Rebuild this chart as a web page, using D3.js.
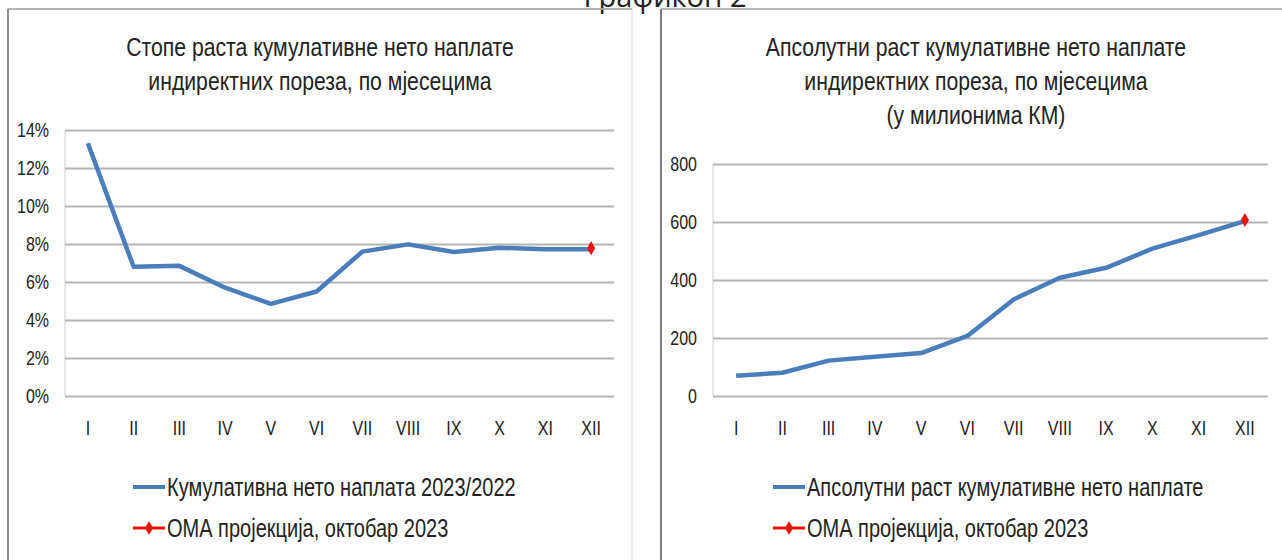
<!DOCTYPE html>
<html>
<head>
<meta charset="utf-8">
<script src="https://cdn.jsdelivr.net/npm/d3@7/dist/d3.min.js"></script>
<style>
	body { margin: 0; background: #fff; }
	svg { display: block; }
	text { font-family: "Liberation Sans", Arial, sans-serif; fill: #222; }
</style>
</head>
<body>
<div id="chart"></div>
<script>

// months (x categories)
var months = ["I", "II", "III", "IV", "V", "VI", "VII", "VIII", "IX", "X", "XI", "XII"];

// left chart - growth rate of cumulative net collection (%)
var growthRates = [13.3, 6.8, 6.85, 5.7, 4.85, 5.5, 7.6, 7.98, 7.58, 7.8, 7.72, 7.72];
var growthProjection = 7.78;   // OMA, XII
var growthTicks = [0, 2, 4, 6, 8, 10, 12, 14];

// right chart - absolute growth (mil. KM)
var absoluteGrowth = [70, 80, 122, 135, 148, 207, 333, 408, 442, 508, 555, 603];
var absoluteProjection = 607;  // OMA, XII
var absoluteTicks = [0, 200, 400, 600, 800];

var svg = d3.select("#chart").append("svg")
	.attr("width", 1282)
	.attr("height", 560);

// no narrow font installed, so squeeze the glyphs horizontally
function condense(sel, factor){
	sel.each(function(){
		var w = this.getComputedTextLength();
		d3.select(this)
			.attr("textLength", w * factor)
			.attr("lengthAdjust", "spacingAndGlyphs");
	});
}

// big caption cut at the top
svg.append("text")
	.text("Графикон 2")
	.attr("x", 665)
	.attr("y", 7)
	.attr("text-anchor", "middle")
	.style("font-family", "'Open Sans', 'Noto Sans', sans-serif")
	.style("font-size", "29px");

// panel frames
svg.append("rect")
	.attr("x", 8).attr("y", 9)
	.attr("width", 624).attr("height", 600)
	.attr("fill", "none")
	.attr("stroke", "#d4d4d4");
svg.append("line")
	.attr("x1", 8).attr("x2", 8).attr("y1", 9).attr("y2", 560)
	.attr("stroke", "#8a8a8a").attr("stroke-width", 2);
svg.append("line")
	.attr("x1", 8).attr("x2", 632).attr("y1", 9).attr("y2", 9)
	.attr("stroke", "#a0a0a0").attr("stroke-width", 1.5);

svg.append("line")
	.attr("x1", 661).attr("x2", 661).attr("y1", 9).attr("y2", 560)
	.attr("stroke", "#7a7a7a").attr("stroke-width", 2);
svg.append("line")
	.attr("x1", 661).attr("x2", 1282).attr("y1", 9).attr("y2", 9)
	.attr("stroke", "#a0a0a0").attr("stroke-width", 1.5);


LineVis = function(_config){
	this.config = _config;
	this.initVis();
}

LineVis.prototype.initVis = function(){
	var vis = this;
	var c = vis.config;

	vis.g = svg.append("g");

	// title
	c.title.forEach(function(line, i){
		vis.g.append("text")
			.text(line)
			.attr("x", c.titleX)
			.attr("y", c.titleY + i * 34)
			.attr("text-anchor", "middle")
			.style("font-size", "26.5px")
			.call(condense, 0.8);
	});

	vis.x = d3.scaleBand()
		.domain(months)
		.range([c.left, c.right]);

	vis.y = d3.scaleLinear()
		.domain([0, d3.max(c.ticks)])
		.range([c.bottom, c.top]);

	// gridlines + y labels
	var yAxis = vis.g.append("g")
		.attr("transform", "translate(" + c.left + ",0)")
		.call(d3.axisLeft(vis.y)
			.tickValues(c.ticks)
			.tickSize(-(c.right - c.left))
			.tickPadding(16)
			.tickFormat(c.format));
	yAxis.select(".domain").attr("stroke", "#d0d0d0").attr("d", "M0," + c.bottom + "V" + c.top);
	yAxis.selectAll(".tick line").attr("stroke", "#b4b4b4").attr("stroke-width", 2);
	yAxis.selectAll(".tick text")
		.style("font-size", "20px").attr("fill", "#222")
		.call(condense, 0.8);

	// x labels
	var xAxis = vis.g.append("g")
		.attr("transform", "translate(0," + c.bottom + ")")
		.call(d3.axisBottom(vis.x).tickSize(0).tickPadding(25));
	xAxis.select(".domain").remove();
	xAxis.selectAll(".tick text")
		.style("font-size", "20px").attr("fill", "#222")
		.call(condense, 0.8);

	vis.line = d3.line()
		.x(function(d, i){ return vis.x(months[i]) + vis.x.bandwidth() / 2; })
		.y(function(d){ return vis.y(d); });

	vis.g.append("path")
		.datum(c.values)
		.attr("d", vis.line)
		.attr("fill", "none")
		.attr("stroke", "#4a7ebb")
		.attr("stroke-width", 4.5)
		.attr("stroke-linejoin", "round");

	var diamond = d3.symbol().type(d3.symbolDiamond).size(58);

	// projection point
	vis.g.append("path")
		.attr("d", diamond)
		.attr("transform", "translate(" + (vis.x("XII") + vis.x.bandwidth() / 2) + "," + vis.y(c.projection) + ")")
		.attr("fill", "#ee1111");

	// legend
	var leg = vis.g.append("g");
	leg.append("line")
		.attr("x1", c.legendX).attr("x2", c.legendX + 32)
		.attr("y1", 487).attr("y2", 487)
		.attr("stroke", "#4a7ebb").attr("stroke-width", 4);
	leg.append("text")
		.text(c.legendText)
		.attr("x", c.legendX + 34)
		.attr("y", 487)
		.attr("dy", "0.35em")
		.style("font-size", "25px")
		.call(condense, 0.8);

	leg.append("line")
		.attr("x1", c.legendX).attr("x2", c.legendX + 32)
		.attr("y1", 528).attr("y2", 528)
		.attr("stroke", "#ee1111").attr("stroke-width", 3);
	leg.append("path")
		.attr("d", diamond)
		.attr("transform", "translate(" + (c.legendX + 16) + ",528)")
		.attr("fill", "#ee1111");
	leg.append("text")
		.text("ОМА пројекција, октобар 2023")
		.attr("x", c.legendX + 34)
		.attr("y", 528)
		.attr("dy", "0.35em")
		.style("font-size", "25px")
		.call(condense, 0.8);
}


var leftVis = new LineVis({
	title: ["Стопе раста кумулативне нето наплате", "индиректних пореза, по мјесецима"],
	titleX: 320, titleY: 56,
	left: 65, right: 614, top: 130, bottom: 396,
	ticks: growthTicks,
	format: function(d){ return d + "%"; },
	values: growthRates,
	projection: growthProjection,
	legendX: 133,
	legendText: "Кумулативна нето наплата 2023/2022"
});

var rightVis = new LineVis({
	title: ["Апсолутни раст кумулативне нето наплате", "индиректних пореза, по мјесецима", "(у милионима КМ)"],
	titleX: 976, titleY: 56,
	left: 713, right: 1268, top: 164, bottom: 396,
	ticks: absoluteTicks,
	format: function(d){ return d; },
	values: absoluteGrowth,
	projection: absoluteProjection,
	legendX: 773,
	legendText: "Апсолутни раст кумулативне нето наплате"
});

</script>
</body>
</html>
